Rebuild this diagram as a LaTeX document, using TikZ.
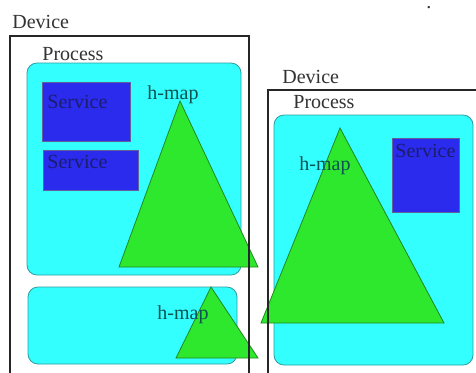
\documentclass[tikz,border=0pt]{standalone}
\usepackage{fontspec}
\setmainfont{Liberation Serif}
\definecolor{proccyan}{HTML}{33FFFF}
\definecolor{procedge}{HTML}{2C9C9C}
\definecolor{servblue}{HTML}{2B2BEE}
\definecolor{servtext}{HTML}{1C1C70}
\definecolor{mapgreen}{HTML}{2EE82E}
\definecolor{mapedge}{HTML}{1E8A1E}
\definecolor{maptext}{HTML}{0E5252}
\definecolor{labgray}{HTML}{333333}
\begin{document}
\begin{tikzpicture}[x=0.5pt, y=-0.5pt,
        lab/.style={anchor=base west, inner sep=0, font=\fontsize{10}{12}\selectfont},
        devlab/.style={lab, text=labgray},
        servlab/.style={lab, text=servtext},
        maplab/.style={lab, text=maptext},
        procbox/.style={fill=proccyan, draw=procedge, line width=0.4pt, rounded corners=5pt},
        servbox/.style={fill=servblue, draw=servtext!70, line width=0.3pt},
        hmap/.style={fill=mapgreen, draw=mapedge, line width=0.4pt},
        devbox/.style={draw=black!85, line width=0.8pt}]
            \useasboundingbox (0, 0) rectangle (476, 372);
            \clip (0, 0) rectangle (476, 372);
            \fill[white] (0, 0) rectangle (476, 372);

            % left device
            \draw[procbox] (27, 63) rectangle (241, 275);
            \draw[procbox] (28, 287) rectangle (237, 364);
            \draw[servbox] (42, 82) rectangle (130, 141);
            \draw[servbox] (43, 150) rectangle (138, 190);
            \draw[hmap] (180, 101) -- (258, 267) -- (119, 267) -- cycle;
            \draw[hmap] (211, 287) -- (258, 358) -- (176, 358) -- cycle;

            % right device
            \draw[procbox] (274, 115) rectangle (473, 365);
            \draw[servbox] (392, 138) rectangle (459, 212);
            \draw[hmap] (340, 128) -- (444, 323) -- (261, 323) -- cycle;

            \draw[devbox] (10, 380) -- (10, 36) -- (249, 36) -- (249, 380);
            \draw[devbox] (268, 380) -- (268, 90) -- (480, 90);

            \node[devlab] (devleft) at (12, 28) {Device};
            \node[devlab] (procleft) at (42, 60) {Process};
            \node[servlab] (servone) at (47, 108) {Service};
            \node[servlab] (servtwo) at (47, 168) {Service};
            \node[maplab] (mapone) at (147, 99) {h-map};
            \node[maplab] (maptwo) at (157, 319) {h-map};

            \node[devlab] (devright) at (282, 83) {Device};
            \node[devlab] (procright) at (293, 108) {Process};
            \node[servlab] (servthree) at (395, 157) {Service};
            \node[maplab] (mapthree) at (299, 170) {h-map};

            \node[devlab] (dot) at (426, 8) {.};
        \end{tikzpicture}
\end{document}
